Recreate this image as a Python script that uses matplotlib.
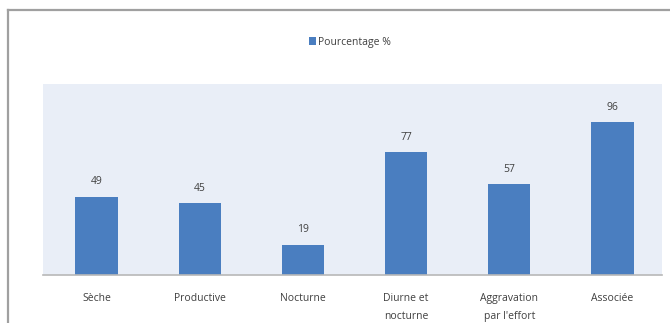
import matplotlib.pyplot as plt
from matplotlib.lines import Line2D

# Data
categories = ['Sèche', 'Productive', 'Nocturne', 'Diurne et\nnocturne',
              'Aggravation\npar l\'effort', 'Associée']
pourcentage = [49, 45, 19, 77, 57, 96]

bar_color = '#4a7ec0'
text_color = '#404040'

plt.rcParams['font.family'] = ['Open Sans', 'DejaVu Sans']

fig = plt.figure(figsize=(6.7, 3.23), dpi=100)
fig.patch.set_facecolor('white')

# Grey outer frame (top and left edges)
fig.add_artist(Line2D([8 / 670, 1], [1 - 10 / 323] * 2, color='#a0a0a0', lw=1.6))
fig.add_artist(Line2D([8 / 670] * 2, [0, 1 - 10 / 323], color='#a0a0a0', lw=1.6))

ax = fig.add_axes([43 / 670, 48 / 323, 619 / 670, 191 / 323])
ax.set_facecolor('#e9eef7')

x = range(len(categories))
bars = ax.bar([i + 0.02 for i in x], pourcentage, width=0.41, color=bar_color,
              label='Pourcentage %')

for rect, v in zip(bars, pourcentage):
    ax.text(rect.get_x() + rect.get_width() / 2, v + 6, str(v),
            ha='center', va='bottom', fontsize=7.5, color=text_color)

ax.set_xlim(-0.5, len(categories) - 0.5)
ax.set_ylim(0, 120)
ax.set_xticks([i + 0.02 for i in x])
ax.set_xticklabels(categories, fontsize=7.5, color=text_color, linespacing=1.9)
ax.tick_params(axis='x', length=0, pad=13)
ax.set_yticks([])

for side in ['top', 'right', 'left']:
    ax.spines[side].set_visible(False)
ax.spines['bottom'].set_color('#b8b8b8')
ax.spines['bottom'].set_linewidth(1.2)

fig.legend(handles=[bars], labels=['Pourcentage %'], loc='center',
           bbox_to_anchor=(350 / 670, 1 - 42 / 323), frameon=False,
           fontsize=7.5, handlelength=0.6, handleheight=0.9, handletextpad=0.2,
           labelcolor=text_color)

plt.savefig('out.png', dpi=100)
